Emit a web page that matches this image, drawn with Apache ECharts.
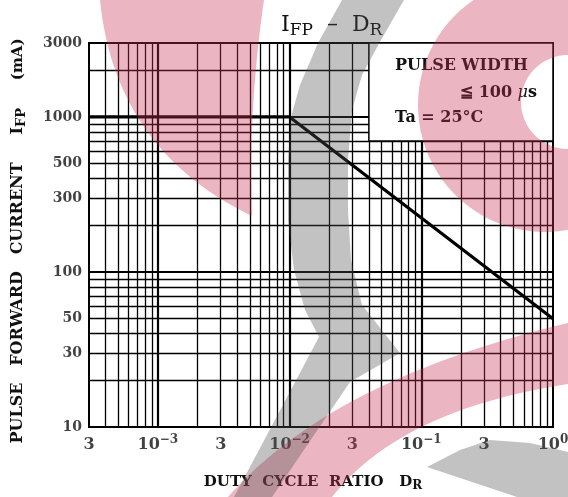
<!DOCTYPE html>
<html><head><meta charset="utf-8">
<script src="https://cdn.jsdelivr.net/npm/echarts@6/dist/echarts.min.js"></script>
<style>html,body{margin:0;padding:0;background:#fff}#c{width:568px;height:497px}</style>
</head><body><div id="c"></div>
<script>
// ---- data ----
const dutyCycle    = [3e-4, 1e-2, 1];
const pulseCurrent = [1000, 1000, 50];

const xTickValues = [3e-4, 1e-3, 3e-3, 1e-2, 3e-2, 1e-1, 3e-1, 1];
const xTickLabels = ['3', '10{sup|−3}', '3', '10{sup|−2}', '3', '10{sup|−1}', '3', '10{sup|0}'];
const yTickValues = [10, 30, 50, 100, 300, 500, 1000, 3000];
const yTickLabels = ['10', '30', '50', '100', '300', '500', '1000', '3000'];

const xGridValues = [4e-4, 5e-4, 6e-4, 7e-4, 8e-4, 9e-4,
                     2e-3, 3e-3, 4e-3, 5e-3, 6e-3, 7e-3, 8e-3, 9e-3,
                     2e-2, 3e-2, 4e-2, 5e-2, 6e-2, 7e-2, 8e-2, 9e-2,
                     2e-1, 3e-1, 4e-1, 5e-1, 6e-1, 7e-1, 8e-1, 9e-1];
const xDecades = [1e-3, 1e-2, 1e-1];
const yGridValues = [20, 30, 40, 50, 60, 70, 80, 90,
                     200, 300, 400, 500, 600, 700, 800, 900, 2000];
const yDecades = [100, 1000];

const X_MIN = 3e-4, X_MAX = 1, Y_MIN = 10, Y_MAX = 3000;
const boxFrom = [4e-2, 700], boxTo = [1, 3000];

// ---- helpers for the decorative watermark ----
function arcPts(cx, cy, r, a0, a1, n) {
  const p = [];
  for (let i = 0; i <= n; i++) { const a = a0 + (a1 - a0) * i / n; p.push([cx + r * Math.cos(a), cy + r * Math.sin(a)]); }
  return p;
}
function quadPts(p0, c, p1, n) {
  const p = [];
  for (let i = 0; i <= n; i++) { const t = i / n, u = 1 - t;
    p.push([u*u*p0[0] + 2*u*t*c[0] + t*t*p1[0], u*u*p0[1] + 2*u*t*c[1] + t*t*p1[1]]); }
  return p;
}
const PINK = 'rgba(200,50,85,0.36)', GRAY = 'rgba(80,80,80,0.35)';
const ringPts = arcPts(545, 105, 127, 0, Math.PI * 2, 90).concat(arcPts(568, 102, 47, Math.PI * 2, 0, 50));
const bananaPts = quadPts([100, 0], [115, 150], [252, 216], 30).concat(quadPts([252, 216], [248, 110], [264, 0], 30));
const grayBand = [[342,0],[404,0],[381,40],[362,75],[352,110],[348,160],[348,210],[351,260],[362,305],[400,353],
                  [350,382],[272,497],[234,497],[319,337],[305,310],[294,270],[288,220],[288,160],[291,117],[300,85],[318,43]];
const grayWedge = [[427,467],[460,450],[490,440],[530,443],[568,452],[568,497],[517,497]];
const pinkBand = quadPts([568,323],[330,380],[228,497],30).concat(quadPts([332,497],[400,410],[568,384],30));

const SERIF = 'DejaVu Serif';
const FG = '#111';

const chart = echarts.init(document.getElementById('c'), null, {renderer: 'canvas'});
chart.setOption({
  animation: false,
  backgroundColor: '#fff',
  title: {
    text: 'I{s|FP}  –  D{s|R}', left: 276, top: 6,
    textStyle: {fontFamily: SERIF, fontSize: 22, fontWeight: 'normal', color: FG, lineHeight: 28,
      rich: {s: {fontFamily: SERIF, fontSize: 17, lineHeight: 20, verticalAlign: 'bottom', color: FG}}}
  },
  grid: {left: 87, right: 15, top: 43, bottom: 67, show: true, borderColor: '#000', borderWidth: 2, backgroundColor: '#fff'},
  xAxis: {
    type: 'log', logBase: 10, min: X_MIN, max: X_MAX,
    axisLine: {show: false}, axisTick: {show: false}, axisLabel: {show: false}, splitLine: {show: false},
    name: 'DUTY  CYCLE  RATIO   D{s|R}', nameLocation: 'middle', nameGap: 45,
    nameTextStyle: {fontFamily: SERIF, fontSize: 15, fontWeight: 'bold', color: FG, lineHeight: 20, padding: [0, 16, 0, 0],
      rich: {s: {fontFamily: SERIF, fontSize: 12, fontWeight: 'bold', lineHeight: 14, verticalAlign: 'bottom', color: FG}}}
  },
  yAxis: {
    type: 'log', logBase: 10, min: Y_MIN, max: Y_MAX,
    axisLine: {show: false}, axisTick: {show: false}, axisLabel: {show: false}, splitLine: {show: false},
    name: 'PULSE   FORWARD   CURRENT     I{s|FP}     {n|(mA)}', nameLocation: 'middle', nameGap: 61, nameRotate: 90,
    nameTextStyle: {fontFamily: SERIF, fontSize: 16, fontWeight: 'bold', color: FG, lineHeight: 20, padding: [0, 12, 0, 0],
      rich: {s: {fontFamily: SERIF, fontSize: 13, lineHeight: 14, verticalAlign: 'bottom', color: FG},
             n: {fontFamily: SERIF, fontSize: 15, color: FG}}}
  },
  series: [
    {
      type: 'lines', coordinateSystem: 'cartesian2d', silent: true, z: 1, polyline: false,
      lineStyle: {color: '#000', width: 1.3, opacity: 1},
      data: xGridValues.map(v => ({coords: [[v, Y_MIN], [v, Y_MAX]]}))
        .concat(yGridValues.map(v => ({coords: [[X_MIN, v], [X_MAX, v]]})))
    },
    {
      type: 'lines', coordinateSystem: 'cartesian2d', silent: true, z: 1, polyline: false,
      lineStyle: {color: '#000', width: 2.2, opacity: 1},
      data: xDecades.map(v => ({coords: [[v, Y_MIN], [v, Y_MAX]]}))
        .concat(yDecades.map(v => ({coords: [[X_MIN, v], [X_MAX, v]]})))
    },
    {
      name: 'IFP', type: 'line', z: 3, symbol: 'none', silent: true,
      lineStyle: {color: '#000', width: 3.2},
      data: dutyCycle.map((x, i) => [x, pulseCurrent[i]]),
      markArea: {
        silent: true, z: 2,
        itemStyle: {color: '#fff', borderColor: '#000', borderWidth: 1.5, opacity: 1},
        data: [[{coord: boxFrom}, {coord: boxTo}]]
      }
    },
    {
      type: 'scatter', symbolSize: 0, silent: true, clip: false, z: 4,
      data: xTickValues.map((v, i) => ({value: [v, Y_MIN], label: {formatter: xTickLabels[i]}})),
      label: {show: true, position: 'bottom', distance: 7, fontFamily: SERIF, fontSize: 16, fontWeight: 'bold', color: FG,
        lineHeight: 22, rich: {sup: {fontFamily: SERIF, fontSize: 12, fontWeight: 'bold', lineHeight: 12, verticalAlign: 'top', color: FG}}}
    },
    {
      type: 'scatter', symbolSize: 0, silent: true, clip: false, z: 4,
      data: yTickValues.map((v, i) => ({value: [X_MIN, v], label: {formatter: yTickLabels[i]}})),
      label: {show: true, position: 'left', distance: 7, fontFamily: SERIF, fontSize: 14, fontWeight: 'bold', color: FG}
    }
  ],
  graphic: [
    {type: 'text', x: 395, y: 66, z: 10, style: {text: 'PULSE WIDTH', font: 'bold 16px "DejaVu Serif"', fill: FG, align: 'left', verticalAlign: 'middle', textAlign: 'left', textVerticalAlign: 'middle'}},
    {type: 'text', x: 537, y: 93, z: 10, style: {text: '≦ 100 {m|μ}s', font: 'bold 16px "DejaVu Serif"', fill: FG, align: 'right', verticalAlign: 'middle', textAlign: 'right', textVerticalAlign: 'middle',
      rich: {m: {font: 'italic 16px "DejaVu Serif"', fill: FG}}}},
    {type: 'text', x: 395, y: 118, z: 10, style: {text: 'Ta = 25°C', font: 'bold 16px "DejaVu Serif"', fill: FG, align: 'left', verticalAlign: 'middle', textAlign: 'left', textVerticalAlign: 'middle'}},
    {type: 'polygon', z: 50, silent: true, shape: {points: ringPts}, style: {fill: PINK}},
    {type: 'polygon', z: 50, silent: true, shape: {points: bananaPts}, style: {fill: PINK}},
    {type: 'polygon', z: 50, silent: true, shape: {points: pinkBand}, style: {fill: PINK}},
    {type: 'polygon', z: 50, silent: true, shape: {points: grayBand}, style: {fill: GRAY}},
    {type: 'polygon', z: 50, silent: true, shape: {points: grayWedge}, style: {fill: GRAY}}
  ]
});
</script></body></html>
